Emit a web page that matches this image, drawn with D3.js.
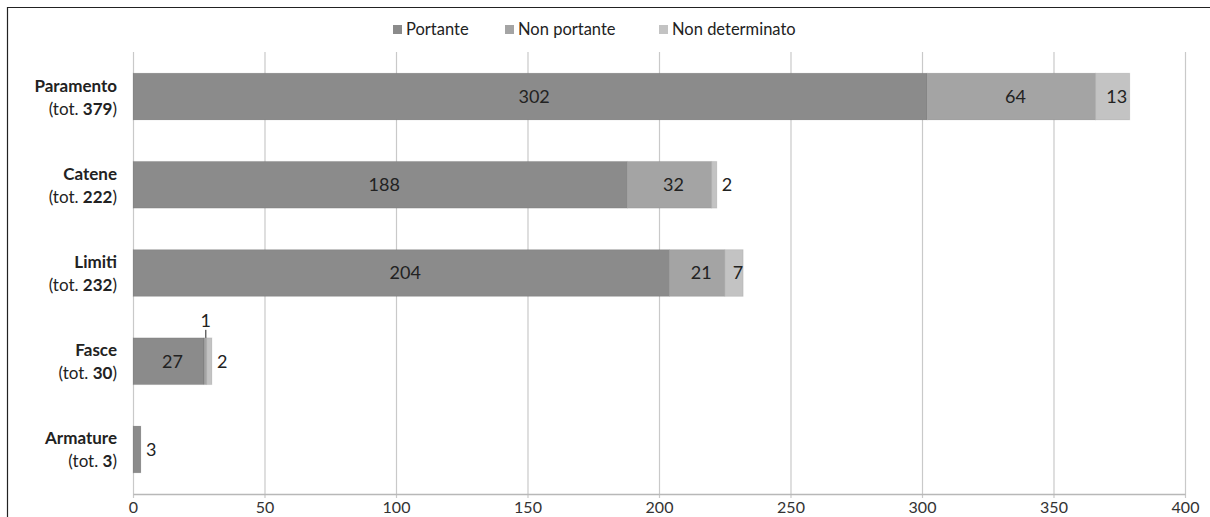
<!DOCTYPE html>
<html>
<head>
<meta charset="utf-8">
<script src="https://cdn.jsdelivr.net/npm/d3@7"></script>
<style>
  body { margin: 0; background: #fff; }
  svg { display: block; font-family: Lato, 'Open Sans', sans-serif; }
</style>
</head>
<body>
<svg id="chart"></svg>
<script>
let categories = ['Paramento', 'Catene', 'Limiti', 'Fasce', 'Armature']
let totals = [379, 222, 232, 30, 3]
let portante = [302, 188, 204, 27, 3]
let nonPortante = [64, 32, 21, 1, 0]
let nonDeterminato = [13, 2, 7, 2, 0]
let seriesNames = ['Portante', 'Non portante', 'Non determinato']
let xTicks = [0, 50, 100, 150, 200, 250, 300, 350, 400]

let width = 1210
let height = 517
let margin = { top: 52, right: 24, bottom: 23, left: 133 }
let colors = ['#8b8b8b', '#a4a4a4', '#c3c3c3']

let svg = d3.select('#chart')
  .attr('width', width)
  .attr('height', height)

// frame: only top and left edges show in the crop
svg.append('path')
  .attr('d', `M7.5,${height} V7.5 H${width}`)
  .attr('fill', 'none')
  .attr('stroke', '#222')
  .attr('stroke-width', 1.2)

let xScale = d3.scaleLinear()
  .domain([0, 400])
  .range([margin.left, width - margin.right - 1])

let yScale = d3.scaleBand()
  .domain(categories)
  .range([margin.top, height - margin.bottom])
  .paddingInner(0.47)
  .paddingOuter(0.24)

let rows = categories.map((c, i) => ({
  cat: c,
  tot: totals[i],
  vals: [portante[i], nonPortante[i], nonDeterminato[i]]
}))

// grid
svg.append('g')
  .selectAll('line')
  .data(xTicks)
  .enter()
  .append('line')
    .attr('x1', d => xScale(d) + 0.5)
    .attr('x2', d => xScale(d) + 0.5)
    .attr('y1', margin.top)
    .attr('y2', height - margin.bottom + 4)
    .attr('stroke', '#c9c9c9')
    .attr('stroke-width', 1.2)

let xAxis = d3.axisBottom(xScale)
  .tickValues(xTicks)
  .tickSize(0)
  .tickPadding(8)

let axisG = svg.append('g')
  .attr('transform', `translate(0, ${height - margin.bottom})`)
  .call(xAxis)
axisG.select('.domain').attr('stroke', '#b8b8b8').attr('stroke-width', 1.4)
axisG.selectAll('text')
  .style('font-family', 'Lato, sans-serif')
  .style('font-size', '16px')
  .attr('fill', '#333')

// bars
let segs = []
rows.forEach(r => {
  let x0 = 0
  let lastNonZero = r.vals.reduce((a, v, k) => v > 0 ? k : a, -1)
  r.vals.forEach((v, k) => {
    segs.push({ cat: r.cat, k: k, v: v, x0: x0, x1: x0 + v, last: k === lastNonZero })
    x0 += v
  })
})

let barG = svg.append('g')
barG.selectAll('rect')
  .data(segs.filter(d => d.v > 0))
  .enter()
  .append('rect')
    .attr('x', d => xScale(d.x0))
    .attr('y', d => yScale(d.cat))
    .attr('width', d => xScale(d.x1) - xScale(d.x0))
    .attr('height', yScale.bandwidth())
    .attr('fill', d => colors[d.k])
    .attr('stroke', 'rgba(0,0,0,0.08)')
    .attr('stroke-width', 1)

// value labels
let labG = svg.append('g')
  .style('font-size', '18px')
  .attr('fill', '#222')

segs.filter(d => d.v > 0).forEach(d => {
  let w = xScale(d.x1) - xScale(d.x0)
  let cy = yScale(d.cat) + yScale.bandwidth() / 2
  if (w >= 14) {
    labG.append('text')
      .attr('x', (xScale(d.x0) + xScale(d.x1)) / 2 + 4)
      .attr('y', cy)
      .attr('dy', '0.35em')
      .attr('text-anchor', 'middle')
      .text(d.v)
  } else if (d.last) {
    labG.append('text')
      .attr('x', xScale(d.x1) + 5)
      .attr('y', cy)
      .attr('dy', '0.35em')
      .text(d.v)
  } else {
    let lx = (xScale(d.x0) + xScale(d.x1)) / 2 + 0.5
    let top = yScale(d.cat)
    labG.append('line')
      .attr('x1', lx).attr('x2', lx)
      .attr('y1', top - 8).attr('y2', top)
      .attr('stroke', '#222')
    labG.append('text')
      .attr('x', lx)
      .attr('y', top - 11)
      .attr('text-anchor', 'middle')
      .text(d.v)
  }
})

// category labels
let catG = svg.append('g')
  .style('font-size', '17px')
  .attr('fill', '#222')
  .attr('text-anchor', 'end')

rows.forEach(r => {
  let cy = yScale(r.cat) + yScale.bandwidth() / 2
  catG.append('text')
    .attr('x', 117)
    .attr('y', cy - 5)
    .style('font-weight', 'bold')
    .text(r.cat)
  let t = catG.append('text')
    .attr('x', 117)
    .attr('y', cy + 18)
  t.append('tspan').text('(tot. ')
  t.append('tspan').style('font-weight', 'bold').text(r.tot)
  t.append('tspan').text(')')
})

// legend
let legendX = [393, 505, 659]
let legG = svg.append('g')
  .style('font-size', '16.5px')
  .attr('fill', '#222')
seriesNames.forEach((s, k) => {
  legG.append('rect')
    .attr('x', legendX[k])
    .attr('y', 25)
    .attr('width', 9)
    .attr('height', 9)
    .attr('fill', colors[k])
  legG.append('text')
    .attr('x', legendX[k] + 13)
    .attr('y', 29)
    .attr('dy', '0.35em')
    .text(s)
})
</script>
</body>
</html>
